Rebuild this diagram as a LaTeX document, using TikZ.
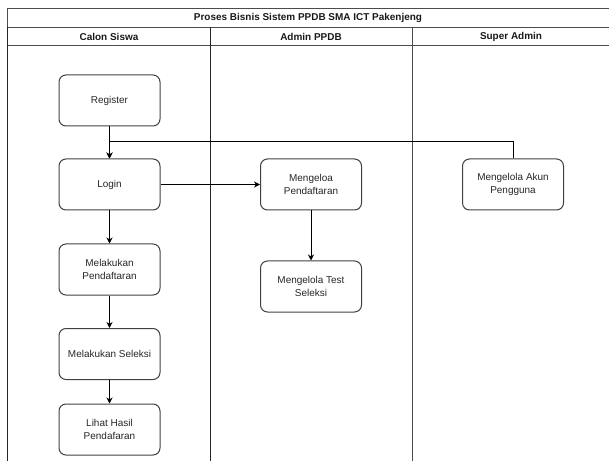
\documentclass[tikz,border=0pt]{standalone}
\usepackage{fontspec}
\setmainfont{Liberation Sans}
\usetikzlibrary{arrows.meta}
\begin{document}
\begin{tikzpicture}[x=1bp,y=-1bp,
  frame/.style={draw=black!70,line width=1bp},
  laneline/.style={draw=black!85,line width=1.2bp},
  proc/.style={draw=black!75,line width=1bp,rounded corners=7bp,minimum width=101bp,minimum height=51bp,
    align=center,font=\fontsize{10}{12.5}\selectfont,text=black!85,inner sep=2bp},
  hdr/.style={font=\bfseries\fontsize{10}{12}\selectfont,text=black!90},
  arr/.style={draw=black,line width=0.9bp,-{Stealth[length=6bp,width=6bp]}}]
\useasboundingbox (0,0) rectangle (609,461);
% frame
\draw[frame] (7.5,461) -- (7.5,8.5) -- (612,8.5);
\draw[frame] (7.5,27.5) -- (612,27.5);
\draw[frame] (7.5,46) -- (612,46);
\draw[laneline] (7.5,27.5) -- (7.5,461);
\draw[laneline] (210.5,27.5) -- (210.5,461);
\draw[frame] (412.5,27.5) -- (412.5,461);
% headers
\node[hdr] (title) at (308,17.5) {Proses Bisnis Sistem PPDB SMA ICT Pakenjeng};
\node[hdr] (h1) at (109,37) {Calon Siswa};
\node[hdr] (h2) at (311,37) {Admin PPDB};
\node[hdr] (h3) at (511,37) {Super Admin};
% nodes
\node[proc] (reg) at (109.5,100.5) {Register};
\node[proc] (login) at (109.5,184.5) {Login};
\node[proc] (daftar) at (109.5,269.5) {Melakukan\\Pendaftaran};
\node[proc] (seleksi) at (109.5,354) {Melakukan Seleksi};
\node[proc] (hasil) at (109.5,429.5) {Lihat Hasil\\Pendafaran};
\node[proc] (kelola) at (311,184.5) {Mengeloa\\Pendaftaran};
\node[proc] (test) at (311,286.5) {Mengelola Test\\Seleksi};
\node[proc] (akun) at (513,184.5) {Mengelola Akun\\Pengguna};
% connectors
\draw[arr] (reg) -- (login);
\draw[arr] (akun.north) -- ++(0,-17.5) -| (login.north);
\draw[arr] (login) -- (kelola);
\draw[arr] (kelola) -- (test);
\draw[arr] (login) -- (daftar);
\draw[arr] (daftar) -- (seleksi);
\draw[arr] (seleksi) -- (hasil);
\end{tikzpicture}
\end{document}
